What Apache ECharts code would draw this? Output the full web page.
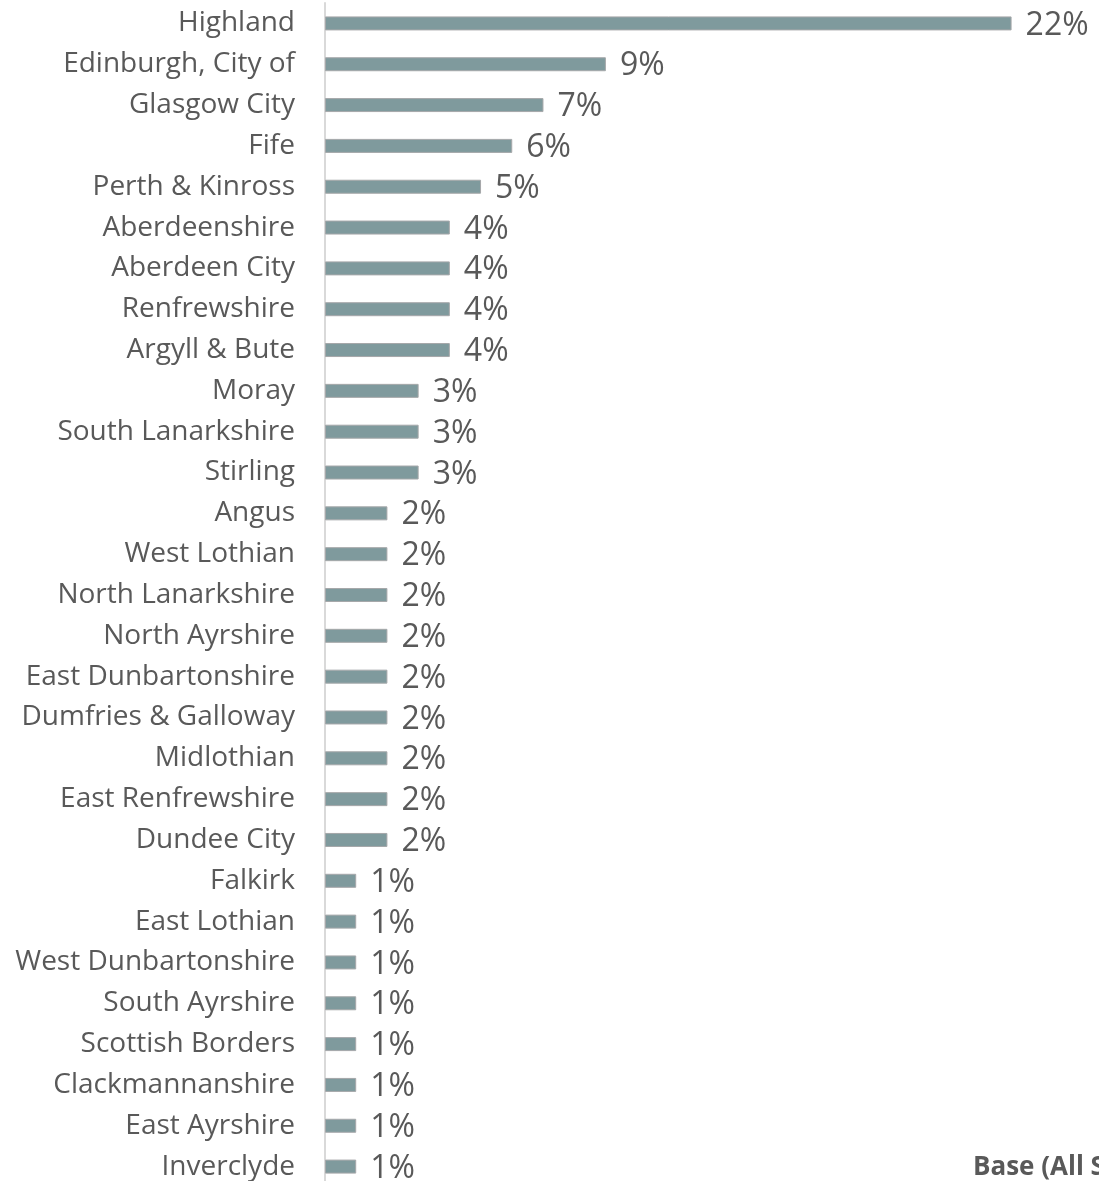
<!DOCTYPE html>
<html lang="en" style="height: 100%">
  <head>
    <meta charset="utf-8" />
  </head>
  <body style="height: 100%; margin: 0; background: #fff; overflow: hidden">
    <div id="container" style="width: 1099px; height: 1190px"></div>

    <script
      type="text/javascript"
      src="https://cdn.jsdelivr.net/npm/echarts@6/dist/echarts.min.js"
    ></script>

    <script type="text/javascript">
      // council areas, top to bottom
      var areas = [
        "Highland", "Edinburgh, City of", "Glasgow City", "Fife",
        "Perth & Kinross", "Aberdeenshire", "Aberdeen City", "Renfrewshire",
        "Argyll & Bute", "Moray", "South Lanarkshire", "Stirling", "Angus",
        "West Lothian", "North Lanarkshire", "North Ayrshire",
        "East Dunbartonshire", "Dumfries & Galloway", "Midlothian",
        "East Renfrewshire", "Dundee City", "Falkirk", "East Lothian",
        "West Dunbartonshire", "South Ayrshire", "Scottish Borders",
        "Clackmannanshire", "East Ayrshire", "Inverclyde"
      ];
      var shares = [
        22, 9, 7, 6, 5, 4, 4, 4, 4, 3, 3, 3, 2, 2, 2, 2, 2, 2, 2, 2, 2,
        1, 1, 1, 1, 1, 1, 1, 1
      ];
      var baseNote = "Base (All Scotland)";

      var dom = document.getElementById("container");
      var myChart = echarts.init(dom, null, { renderer: "canvas" });

      var option = {
        animation: false,
        grid: { left: 325, width: 749, top: 3, height: 1184 },
        xAxis: {
          type: "value",
          min: 0,
          max: 24,
          show: false
        },
        yAxis: {
          type: "category",
          data: areas,
          inverse: true,
          axisTick: { show: false },
          axisLine: { lineStyle: { color: "#d9d9d9", width: 2 } },
          axisLabel: {
            color: "#595959",
            fontSize: 28,
            fontFamily: "Open Sans",
            margin: 30
          }
        },
        series: [
          {
            type: "bar",
            data: shares,
            barWidth: 14,
            itemStyle: {
              color: "#7f9a9d",
              borderColor: "#a6a8aa",
              borderWidth: 1
            },
            label: {
              show: true,
              position: "right",
              distance: 14,
              formatter: "{c}%",
              color: "#595959",
              fontSize: 32,
              fontFamily: "Open Sans",
              offset: [0, 2]
            }
          }
        ],
        graphic: [
          {
            type: "text",
            left: 973,
            top: 1155,
            style: {
              text: baseNote,
              fill: "#595959",
              font: "bold 26px 'Open Sans'"
            }
          }
        ]
      };

      myChart.setOption(option);
      window.addEventListener("resize", myChart.resize);
    </script>
  </body>
</html>
